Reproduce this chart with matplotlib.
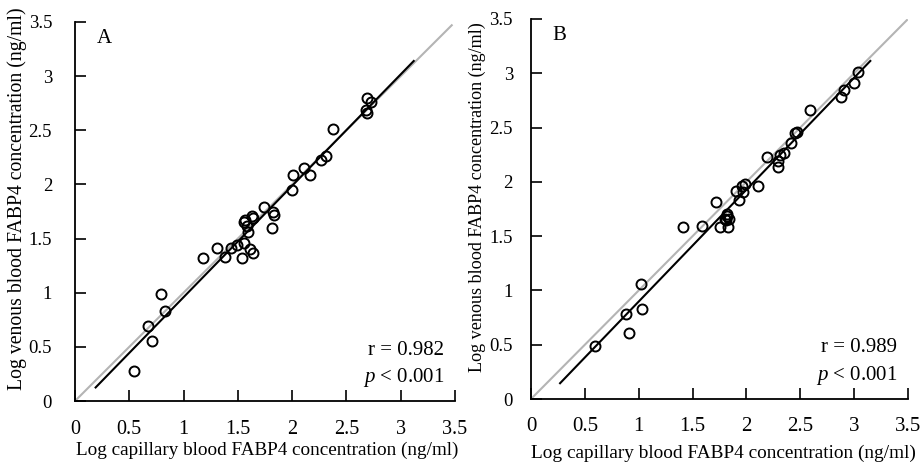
import numpy as np
import matplotlib
matplotlib.use("Agg")
import matplotlib.pyplot as plt

plt.rcParams['font.family'] = ['Liberation Serif', 'DejaVu Serif']
plt.rcParams['mathtext.fontset'] = 'custom'
plt.rcParams['mathtext.it'] = 'Liberation Serif:italic'

# Panel A data (log capillary, log venous)
a_x = [0.54, 0.67, 0.71, 0.79, 0.83, 1.18, 1.31, 1.38, 1.44, 1.49, 1.54, 1.56, 1.61, 1.64,
       1.57, 1.58, 1.59, 1.56, 1.63, 1.64, 1.74, 1.81, 1.82, 1.83, 2.00, 2.01, 2.11, 2.16,
       2.27, 2.31, 2.38, 2.68, 2.69, 2.73, 2.69]
a_y = [0.28, 0.69, 0.55, 0.99, 0.83, 1.32, 1.41, 1.33, 1.41, 1.44, 1.32, 1.46, 1.40, 1.37,
       1.67, 1.62, 1.56, 1.65, 1.71, 1.69, 1.79, 1.60, 1.75, 1.72, 1.95, 2.09, 2.15, 2.09,
       2.23, 2.26, 2.51, 2.69, 2.80, 2.76, 2.66]
# Panel B data
b_x = [0.59, 0.88, 0.91, 1.02, 1.03, 1.41, 1.59, 1.72, 1.75, 1.80, 1.82, 1.84, 1.81, 1.83,
       1.82, 1.90, 1.93, 1.96, 1.99, 1.97, 2.11, 2.19, 2.29, 2.29, 2.31, 2.35, 2.41, 2.45,
       2.47, 2.59, 2.88, 2.91, 3.00, 3.04]
b_y = [0.49, 0.78, 0.61, 1.06, 0.83, 1.58, 1.59, 1.81, 1.58, 1.66, 1.69, 1.66, 1.65, 1.58,
       1.70, 1.92, 1.83, 1.96, 1.98, 1.91, 1.96, 2.23, 2.19, 2.14, 2.25, 2.27, 2.36, 2.45,
       2.46, 2.66, 2.78, 2.85, 2.91, 3.01]

panels = [
    dict(label='A', x=a_x, y=a_y, r='0.982', fit_range=(0.19, 3.12), id_end=3.47,
         rect=[75/922, 62/463, 380/922, 379/463],
         ylx=17, yly=0.57, ylfs=14.2, xlx=267.5, xly=450, xlfs=13.75,
         xtfs=14.5, ytfs=13.5, ypad=16.5, xpad=13.5),
    dict(label='B', x=b_x, y=b_y, r='0.989', fit_range=(0.27, 3.15), id_end=3.49,
         rect=[531/922, 64/463, 377/922, 380/463],
         ylx=477, yly=0.575, ylfs=13.1, xlx=723, xly=453, xlfs=13.9,
         xtfs=15, ytfs=13.5, ypad=13, xpad=13),
]

ticks = [0, 0.5, 1, 1.5, 2, 2.5, 3, 3.5]
tick_labels = ['0', '0.5', '1', '1.5', '2', '2.5', '3', '3.5']
xlabel = 'Log capillary blood FABP4 concentration (ng/ml)'
ylabel = 'Log venous blood FABP4 concentration (ng/ml)'

fig = plt.figure(figsize=(9.22, 4.63), dpi=100)
for p in panels:
    ax = fig.add_axes(p['rect'])
    ax.set_xlim(0, 3.5)
    ax.set_ylim(0, 3.5)
    ax.plot([0, p['id_end']], [0, p['id_end']], color='#b4b4b4', lw=1.5, zorder=1)
    slope, icpt = np.polyfit(p['x'], p['y'], 1)
    xs = np.array(p['fit_range'])
    ax.plot(xs, slope * xs + icpt, color='black', lw=1.5, zorder=2)
    ax.plot(p['x'], p['y'], 'o', mfc='none', mec='black', mew=1.4, ms=7.2, zorder=3,
            clip_on=False)
    for s in ['top', 'right']:
        ax.spines[s].set_visible(False)
    for s in ['left', 'bottom']:
        ax.spines[s].set_linewidth(1.3)
    ax.set_xticks(ticks)
    ax.set_xticklabels(tick_labels)
    ax.set_yticks(ticks)
    ax.set_yticklabels(tick_labels)
    ax.tick_params(direction='in', length=8, width=1.2)
    ax.tick_params(axis='x', pad=p['xpad'], labelsize=p['xtfs'])
    ax.tick_params(axis='y', pad=p['ypad'], labelsize=p['ytfs'])
    ax.text(0.2, 3.35, p['label'], fontsize=15, va='center', ha='left')
    ax.text(3.4, 0.47, 'r = ' + p['r'], fontsize=15, ha='right', va='center')
    ax.text(3.4, 0.22, r'$p$ < 0.001', fontsize=15, ha='right', va='center')
    fig.text(p['ylx'] / 922, p['yly'], ylabel, rotation=90, fontsize=p['ylfs'],
             ha='center', va='center')
    fig.text(p['xlx'] / 922, 1 - p['xly'] / 463, xlabel, fontsize=p['xlfs'],
             ha='center', va='center')

fig.savefig('out.png', dpi=100)
